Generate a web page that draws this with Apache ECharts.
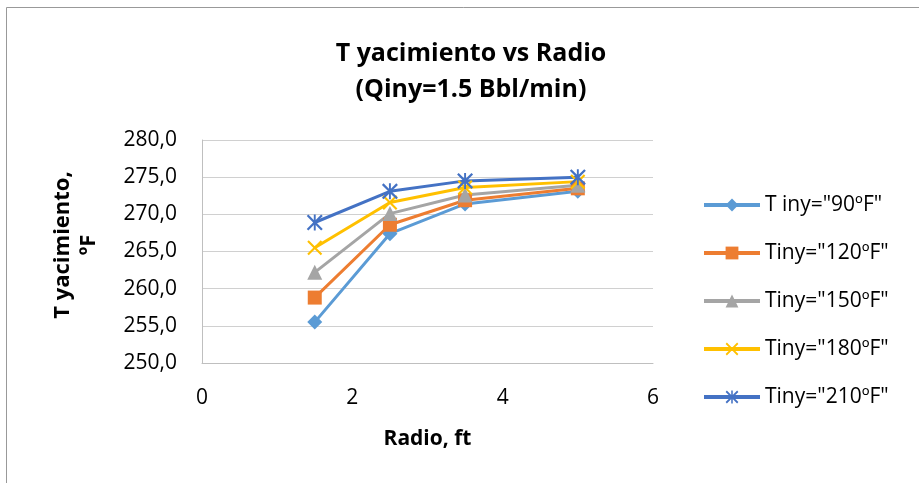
<!DOCTYPE html>
<html>
<head>
<meta charset="utf-8">
<script src="https://cdn.jsdelivr.net/npm/echarts@6/dist/echarts.min.js"></script>
<style>html,body{margin:0;padding:0;background:#fff}#c{width:919px;height:483px}</style>
</head>
<body>
<div id="c"></div>
<script>
const radios = [1.5, 2.5, 3.5, 5];
const seriesNames = ['T iny="90ºF"', 'Tiny="120ºF"', 'Tiny="150ºF"', 'Tiny="180ºF"', 'Tiny="210ºF"'];
const t90  = [255.5, 267.4, 271.4, 273.1];
const t120 = [258.8, 268.6, 271.9, 273.5];
const t150 = [262.2, 270.1, 272.6, 273.9];
const t180 = [265.5, 271.6, 273.6, 274.4];
const t210 = [268.9, 273.1, 274.5, 275.0];
const titleText = 'T yacimiento vs Radio\n(Qiny=1.5 Bbl/min)';
const xName = 'Radio, ft';
const yName = 'T yacimiento,\nºF';

const allValues = [t90, t120, t150, t180, t210];
const colors = ['#5B9BD5', '#ED7D31', '#A5A5A5', '#FFC000', '#4472C4'];
const xPath = 'path://M1,0L5,4L9,0L10,1L6,5L10,9L9,10L5,6L1,10L0,9L4,5L0,1Z';
const starPath = 'path://M1,0L5,4L9,0L10,1L6,5L10,9L9,10L5,6L1,10L0,9L4,5L0,1Z M4.4,0L5.6,0L5.6,10L4.4,10Z';
const symbols = ['diamond', 'rect', 'triangle', xPath, starPath];
const symSizes = [15, 14, 15, 15, 16];
const font = '"Open Sans", "Noto Sans", sans-serif';

const chart = echarts.init(document.getElementById('c'), null, {renderer: 'canvas'});
chart.setOption({
  animation: false,
  backgroundColor: '#fff',
  graphic: [{
    type: 'rect', silent: true, z: -1,
    shape: {x: 6.5, y: 7.5, width: 2000, height: 2000},
    style: {fill: 'none', stroke: '#999', lineWidth: 1}
  }],
  title: {
    text: titleText,
    left: 466, top: 31, textAlign: 'center',
    textStyle: {fontFamily: font, fontSize: 25, fontWeight: 'bold', color: '#000', lineHeight: 36}
  },
  grid: {left: 202, right: 266, top: 140, bottom: 120, containLabel: false},
  legend: {
    orient: 'vertical', left: 697, top: 188,
    itemWidth: 56, itemHeight: 16, itemGap: 24,
    lineStyle: {width: 4},
    textStyle: {fontFamily: font, fontSize: 21, color: '#000', lineHeight: 24},
    data: seriesNames
  },
  xAxis: {
    type: 'value', min: 0, max: 6, interval: 2,
    name: xName, nameLocation: 'middle', nameGap: 66,
    nameTextStyle: {fontFamily: font, fontSize: 21, fontWeight: 'bold', color: '#000'},
    axisLine: {show: true, onZero: false, lineStyle: {color: '#bfbfbf', width: 1}},
    axisTick: {show: false},
    splitLine: {show: false},
    axisLabel: {fontFamily: font, fontSize: 21, color: '#000', margin: 25}
  },
  yAxis: {
    type: 'value', min: 250, max: 280, interval: 5,
    name: yName, nameLocation: 'middle', nameGap: 100,
    nameTextStyle: {fontFamily: font, fontSize: 22, fontWeight: 'bold', color: '#000', lineHeight: 26, padding: [0, 0, 0, 13]},
    axisLine: {show: true, lineStyle: {color: '#bfbfbf', width: 1}},
    axisTick: {show: false},
    splitLine: {show: true, lineStyle: {color: '#d0d0d0', width: 1}},
    axisLabel: {fontFamily: font, fontSize: 21, color: '#000', margin: 25,
      formatter: v => v.toFixed(1).replace('.', ',')}
  },
  series: seriesNames.map((name, i) => ({
    name: name,
    type: 'line',
    data: radios.map((r, j) => [r, allValues[i][j]]),
    symbol: symbols[i],
    symbolSize: symSizes[i],
    showAllSymbol: true,
    lineStyle: {color: colors[i], width: 3},
    itemStyle: {color: colors[i]},
    emphasis: {disabled: true}
  }))
});
</script>
</body>
</html>
